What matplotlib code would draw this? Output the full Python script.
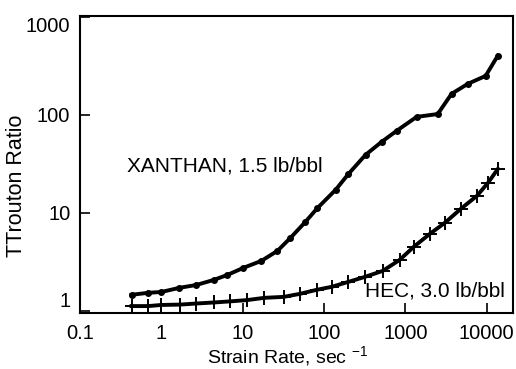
import matplotlib
matplotlib.use('Agg')
import matplotlib.pyplot as plt

plt.rcParams['font.family'] = ['Liberation Sans', 'DejaVu Sans']
plt.rcParams['mathtext.fontset'] = 'custom'
plt.rcParams['mathtext.rm'] = 'Liberation Sans'

# strain rate (1/s) and Trouton ratio
xanthan_rate = [0.43, 0.69, 1.0, 1.67, 2.7, 4.4, 6.5, 10.2, 17, 26.8, 38.7, 59,
                83, 139, 200, 324, 510, 780, 1375, 2500, 3700, 5840, 9700, 13650]
xanthan_ratio = [1.46, 1.53, 1.56, 1.72, 1.84, 2.07, 2.33, 2.75, 3.24, 4.10, 5.56, 8.09,
                 11.2, 17.2, 25.0, 39.1, 53.0, 68.7, 95.4, 102, 164, 207, 250, 400]

hec_rate = [0.43, 0.69, 1.0, 1.71, 2.7, 4.5, 6.9, 11.4, 18.5, 31.8, 50, 81,
            124, 200, 316, 527, 853, 1266, 1995, 3053, 4808, 7570, 10350, 13730]
hec_ratio = [1.12, 1.12, 1.15, 1.16, 1.19, 1.22, 1.25, 1.29, 1.36, 1.39, 1.49, 1.64,
             1.76, 1.98, 2.22, 2.56, 3.32, 4.50, 6.10, 7.91, 11.0, 14.9, 20.2, 28.1]

x_ticks = [0.1, 1, 10, 100, 1000, 10000]
x_labels = ['0.1', '1', '10', '100', '1000', '10000']
y_ticks = [1, 10, 100, 1000]
y_labels = ['1', '10', '100', '1000']

fig = plt.figure(figsize=(5.16, 3.69), dpi=100)
ax = fig.add_axes([0.155, 0.152, 0.839, 0.805])

ax.plot(xanthan_rate, xanthan_ratio, color='black', lw=2.8, marker='o', ms=4)
ax.plot(hec_rate, hec_ratio, color='black', lw=2.8, marker='+', ms=10, mew=1.4)

ax.set_xscale('log')
ax.set_yscale('log')
ax.set_xlim(0.1, 21000)
ax.set_ylim(0.954, 1024)

ax.set_xticks(x_ticks)
ax.set_xticklabels(x_labels)
ax.set_yticks(y_ticks)
ax.set_yticklabels(y_labels)
ax.minorticks_off()
ax.tick_params(direction='in', length=7, width=1.2, labelsize=14.5)
ax.tick_params(axis='x', pad=8)
ax.tick_params(axis='y', pad=7)
ylab = ax.get_yticklabels()
ylab[0].set_va('bottom')
ylab[-1].set_va('top')

for s in ax.spines.values():
    s.set_linewidth(1.5)

ax.set_xlabel(r'Strain Rate, sec $^{\mathregular{-1}}$', fontsize=14)
ax.set_ylabel('TTrouton Ratio', fontsize=15.5)
ax.xaxis.set_label_coords(0.479, -0.105)
ax.yaxis.set_label_coords(-0.122, 0.428)

ax.text(0.38, 30, 'XANTHAN, 1.5 lb/bbl', fontsize=15, ha='left', va='center')
ax.text(315, 1.6, 'HEC, 3.0 lb/bbl', fontsize=15, ha='left', va='center')

fig.savefig('out.png', dpi=100)
